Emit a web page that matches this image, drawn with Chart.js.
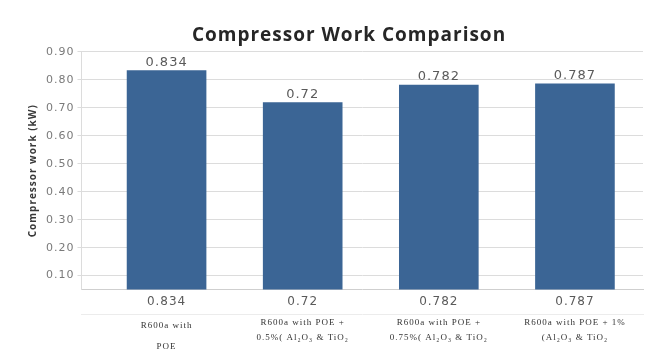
<!DOCTYPE html>
<html>
<head>
<meta charset="utf-8">
<script src="https://cdn.jsdelivr.net/npm/chart.js@4.4.1/dist/chart.umd.min.js"></script>
<style>
  html, body { margin: 0; padding: 0; background: #ffffff; }
  #wrap { width: 654px; height: 358px; }
</style>
</head>
<body>
<div id="wrap"><canvas id="c"></canvas></div>
<script>
// Compressor work for each refrigerant / nanolubricant mix
const categories = [
  ['R600a with', 'POE'],
  ['R600a with POE +', '0.5%( Al₂O₃ & TiO₂'],
  ['R600a with POE +', '0.75%( Al₂O₃ & TiO₂'],
  ['R600a with POE + 1%', '(Al₂O₃ & TiO₂']
];
const workKW = [0.834, 0.72, 0.782, 0.787];
const yTicks = [0.1, 0.2, 0.3, 0.4, 0.5, 0.6, 0.7, 0.8, 0.9];

const barColor = '#3b6595';
const gridColor = '#dcdcdc';
const tickColor = '#7a7a7a';
const valueColor = '#5a5a5a';

// Bars sit at x = 0..n-1 on a linear axis
const points = workKW.map((v, i) => ({ x: i, y: v }));
const indexTicks = categories.map((_, i) => ({ value: i }));

// Slightly open letter spacing for all canvas text
const textSpacing = {
  id: 'textSpacing',
  beforeUpdate(chart) { chart.ctx.letterSpacing = '1px'; },
  beforeDraw(chart) { chart.ctx.letterSpacing = '1px'; }
};

// Value labels above each bar
const barValueLabels = {
  id: 'barValueLabels',
  afterDatasetsDraw(chart) {
    const ctx = chart.ctx;
    const meta = chart.getDatasetMeta(0);
    ctx.save();
    ctx.font = '13px "DejaVu Sans"';
    ctx.fillStyle = valueColor;
    ctx.textAlign = 'center';
    ctx.textBaseline = 'middle';
    meta.data.forEach((bar, i) => {
      ctx.fillText(String(workKW[i]), bar.x, bar.y - 8);
    });
    ctx.restore();
  }
};

// Nudge the title so it centres over the plot rather than the canvas
const titleOffset = {
  id: 'titleOffset',
  afterLayout(chart) {
    const t = chart.titleBlock;
    if (t) { t.left += 14; t.right += 14; }
  }
};

new Chart(document.getElementById('c'), {
  type: 'bar',
  data: {
    datasets: [{
      data: points,
      backgroundColor: barColor,
      borderWidth: 0,
      barPercentage: 0.65,
      categoryPercentage: 0.9
    }]
  },
  plugins: [textSpacing, barValueLabels, titleOffset],
  options: {
    responsive: true,
    maintainAspectRatio: false,
    animation: false,
    layout: { padding: { left: 27, right: 11, top: 25, bottom: 0 } },
    plugins: {
      legend: { display: false },
      tooltip: { enabled: false },
      title: {
        display: true,
        text: 'Compressor Work Comparison',
        color: '#262626',
        font: { family: 'Open Sans', size: 19, weight: 'bold', lineHeight: 1.15 },
        padding: { top: 0, bottom: 5 }
      }
    },
    scales: {
      x: {
        type: 'linear',
        position: 'bottom',
        offset: false,
        min: -0.625,
        max: 3.5,
        afterBuildTicks(scale) { scale.ticks = indexTicks.map(t => ({ ...t })); },
        grid: { display: false, drawTicks: false, offset: false },
        border: { display: true, color: '#cfcfcf', width: 1 },
        ticks: {
          padding: 5,
          color: valueColor,
          font: { family: 'DejaVu Sans', size: 12 },
          callback: (v) => String(workKW[v])
        }
      },
      x2: {
        type: 'linear',
        position: 'bottom',
        offset: false,
        min: -0.625,
        max: 3.5,
        afterBuildTicks(scale) { scale.ticks = indexTicks.map(t => ({ ...t })); },
        grid: { display: false, drawTicks: false, offset: false },
        border: { display: true, color: '#ececec', width: 1 },
        ticks: {
          padding: 1,
          color: '#333333',
          crossAlign: 'near',
          font: (ctx) => ({
            family: 'Liberation Serif',
            size: 9,
            lineHeight: ctx.index === 0 ? '21px' : '15px'
          }),
          callback: (v) => categories[v]
        }
      },
      y: {
        min: 0.05,
        max: 0.9,
        afterBuildTicks(scale) { scale.ticks = yTicks.map(v => ({ value: v })); },
        grid: { color: gridColor, tickLength: 4 },
        border: { display: true, color: gridColor },
        ticks: {
          padding: 3,
          color: tickColor,
          font: { family: 'DejaVu Sans', size: 11 },
          callback: (v) => Number(v).toFixed(2)
        },
        title: {
          display: true,
          text: 'Compressor work (kW)',
          color: '#3a3a3a',
          font: { family: 'Open Sans', size: 10, weight: 'bold' },
          padding: { top: 0, bottom: 4 }
        }
      }
    }
  }
});
</script>
</body>
</html>
